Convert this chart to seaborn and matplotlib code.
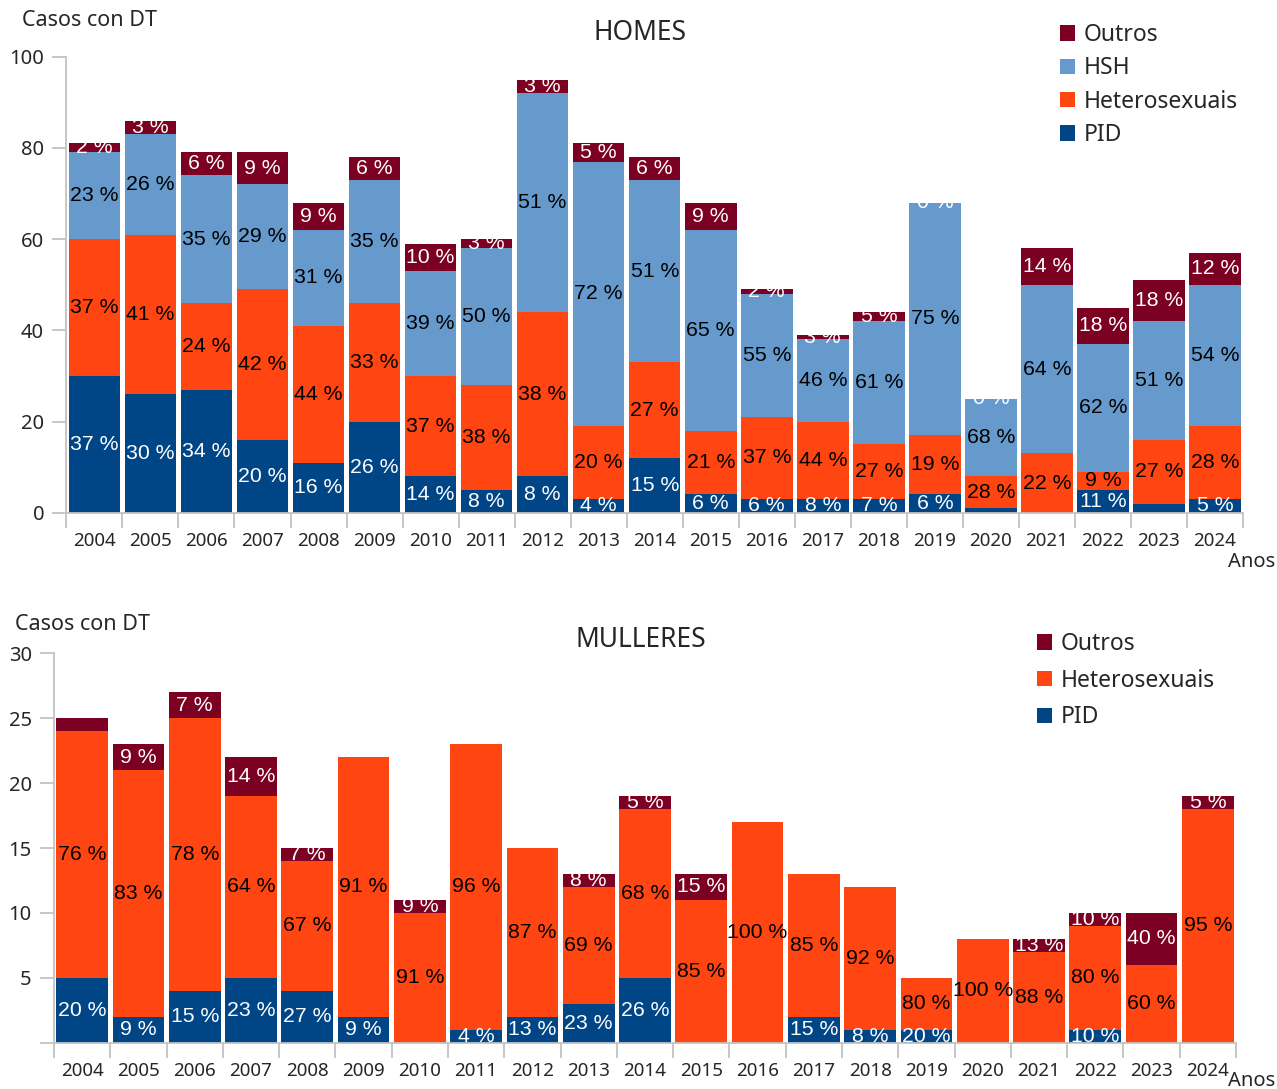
import numpy as np
import pandas as pd
import matplotlib
matplotlib.use("Agg")
import matplotlib.pyplot as plt
from matplotlib.patches import Patch
from matplotlib.ticker import FixedLocator
import seaborn as sns

# ---- data: cases with late diagnosis (DT) by transmission group ----
years = [str(y) for y in range(2004, 2025)]

# HOMES
men_pid = [30, 26, 27, 16, 11, 20, 8, 5, 8, 3, 12, 4, 3, 3, 3, 4, 1, 0, 5, 2, 3]
men_het = [30, 35, 19, 33, 30, 26, 22, 23, 36, 16, 21, 14, 18, 17, 12, 13, 7, 13, 4, 14, 16]
men_hsh = [19, 22, 28, 23, 21, 27, 23, 30, 48, 58, 40, 44, 27, 18, 27, 51, 17, 37, 28, 26, 31]
men_out = [2, 3, 5, 7, 6, 5, 6, 2, 3, 4, 5, 6, 1, 1, 2, 0, 0, 8, 8, 9, 7]

# MULLERES
women_pid = [5, 2, 4, 5, 4, 2, 0, 1, 2, 3, 5, 0, 0, 2, 1, 1, 0, 0, 1, 0, 0]
women_het = [19, 19, 21, 14, 10, 20, 10, 22, 13, 9, 13, 11, 17, 11, 11, 4, 8, 7, 8, 6, 18]
women_out = [1, 2, 2, 3, 1, 0, 1, 0, 0, 1, 1, 2, 0, 0, 0, 0, 0, 1, 1, 4, 1]

# percentage labels left out of the chart
men_hidden = {"PID": ["2020", "2021", "2023"]}
women_hidden = {"Outros": ["2004"]}

colors = {"PID": "#004586", "Heterosexuais": "#ff4511",
          "HSH": "#6699cc", "Outros": "#7b0021"}
text_colors = {"PID": "white", "Heterosexuais": "black",
               "HSH": "black", "Outros": "white"}

sns.set_style("ticks")
plt.rcParams["font.family"] = ["Noto Sans", "DejaVu Sans"]
LABEL_FONT = ["Liberation Sans", "DejaVu Sans"]
GREY = "#c3c3c3"

W, H = 1277, 1089
fig = plt.figure(figsize=(W / 100, H / 100), dpi=100)


def fx(px):
    return px / W


def fy(py):
    return 1 - py / H


def pct(v, t):
    return int(np.floor(100.0 * v / t + 0.5))


def stacked(ax, series, hidden, show_zero, ymax, ystep):
    names = list(series)
    df = pd.DataFrame(series)
    df.insert(0, "Ano", years)
    cum = df[names].cumsum(axis=1)
    cum.insert(0, "Ano", years)
    totals = df[names].sum(axis=1).to_numpy()

    # stacked bars: draw cumulative heights from the top segment down
    for name in reversed(names):
        sns.barplot(data=cum, x="Ano", y=name, color=colors[name],
                    saturation=1, width=0.92, errorbar=None,
                    linewidth=0, ax=ax)

    # percentage labels centred in each segment
    for name in names:
        vals = df[name].to_numpy()
        tops = cum[name].to_numpy()
        for i, yr in enumerate(years):
            v = vals[i]
            if yr in hidden.get(name, []):
                continue
            if v == 0 and not show_zero:
                continue
            ax.text(i, tops[i] - v / 2.0, f"{pct(v, totals[i])} %",
                    ha="center", va="center", color=text_colors[name],
                    fontsize=15.3, family=LABEL_FONT, clip_on=True)

    ax.set(xlabel="", ylabel="")
    ax.set_xlim(-0.5, len(years) - 0.5)
    ax.set_ylim(0, ymax)
    ax.set_yticks(np.arange(0, ymax + 1, ystep))
    ax.set_xticks(range(len(years)))
    ax.set_xticklabels(years)
    ax.xaxis.set_minor_locator(FixedLocator(np.arange(-0.5, len(years), 1)))
    ax.tick_params(axis="x", which="major", length=0, pad=14, labelsize=13.5)
    ax.tick_params(axis="x", which="minor", length=11, width=1.3, color=GREY)
    ax.tick_params(axis="y", length=10, width=1.3, color=GREY, pad=6,
                   labelsize=14.5)
    for s in ("top", "right"):
        ax.spines[s].set_visible(False)
    for s in ("left", "bottom"):
        ax.spines[s].set_color(GREY)
        ax.spines[s].set_linewidth(1.3)


# ---- HOMES ----
ax1 = fig.add_axes([fx(66.4), fy(512.7), fx(1243 - 66.4), (512.7 - 56.7) / H])
stacked(ax1, {"PID": men_pid, "Heterosexuais": men_het,
              "HSH": men_hsh, "Outros": men_out},
        men_hidden, True, 100, 20)

# ---- MULLERES ----
ax2 = fig.add_axes([fx(54), fy(1042.7), fx(1236 - 54), (1042.7 - 653.3) / H])
stacked(ax2, {"PID": women_pid, "Heterosexuais": women_het,
              "Outros": women_out},
        women_hidden, False, 30, 5)
ax2.set_yticks(np.arange(0, 31, 5))
ax2.set_yticklabels([""] + [str(v) for v in range(5, 31, 5)])

# titles and axis captions
fig.text(fx(640), fy(33), "HOMES", ha="center", va="center", fontsize=19)
fig.text(fx(641), fy(640), "MULLERES", ha="center", va="center", fontsize=19)
fig.text(fx(22), fy(21), "Casos con DT", ha="left", va="center", fontsize=15.5)
fig.text(fx(15), fy(624), "Casos con DT", ha="left", va="center", fontsize=15.5)
fig.text(fx(1228), fy(562), "Anos", ha="left", va="center", fontsize=14.5)
fig.text(fx(1228), fy(1081), "Anos", ha="left", va="center", fontsize=14.5)


def legend(order, x, y, spacing):
    handles = [Patch(facecolor=colors[n], edgecolor="none", label=n) for n in order]
    fig.legend(handles=handles, loc="upper left", bbox_to_anchor=(fx(x), fy(y)),
               frameon=False, fontsize=16.5, handlelength=0.65,
               handleheight=0.65, handletextpad=0.4, labelspacing=spacing,
               borderpad=0, borderaxespad=0)


legend(["Outros", "HSH", "Heterosexuais", "PID"], 1060, 23, 0.41)
legend(["Outros", "Heterosexuais", "PID"], 1037, 632, 0.55)

fig.savefig("out.png", dpi=100)
